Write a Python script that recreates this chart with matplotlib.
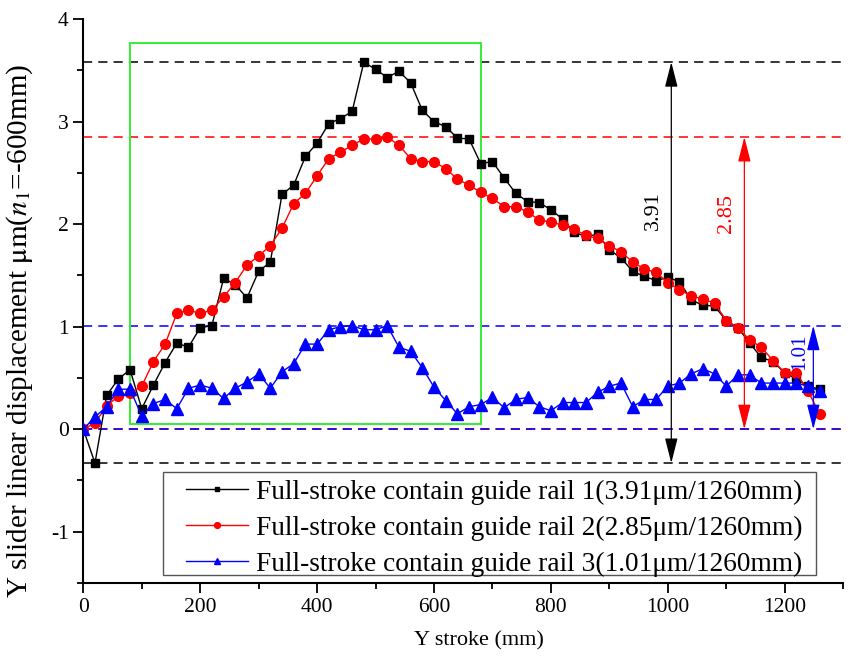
import matplotlib
matplotlib.use("Agg")
import matplotlib.pyplot as plt
from matplotlib.patches import Rectangle
import numpy as np

plt.rcParams.update({
    "font.family": ["Liberation Serif", "DejaVu Serif"],
    "mathtext.fontset": "stix",
    "axes.linewidth": 1.5,
    "axes.unicode_minus": False,
})

# ---------------------------------------------------------------------------
# Data, stroke every 20 mm from 0 to 1260
# ---------------------------------------------------------------------------
stroke = np.arange(0, 1261, 20)

rail1 = [0.00, -0.33, 0.33, 0.49, 0.58, 0.20, 0.43, 0.65, 0.84, 0.80,
         0.99, 1.01, 1.47, 1.41, 1.28, 1.54, 1.63, 2.29, 2.38, 2.66,
         2.79, 2.98, 3.03, 3.10, 3.58, 3.51, 3.43, 3.49, 3.38, 3.11,
         3.00, 2.95, 2.84, 2.83, 2.59, 2.61, 2.45, 2.30, 2.22, 2.21,
         2.14, 2.05, 1.92, 1.88, 1.90, 1.75, 1.67, 1.54, 1.49, 1.45,
         1.48, 1.44, 1.26, 1.21, 1.20, 1.06, 0.99, 0.84, 0.70, 0.66,
         0.55, 0.49, 0.42, 0.39]

rail2 = [0.00, 0.06, 0.23, 0.32, 0.35, 0.42, 0.66, 0.83, 1.13, 1.16,
         1.13, 1.16, 1.29, 1.43, 1.60, 1.69, 1.79, 1.96, 2.20, 2.30,
         2.47, 2.64, 2.70, 2.77, 2.83, 2.83, 2.85, 2.77, 2.64, 2.61,
         2.61, 2.54, 2.44, 2.38, 2.31, 2.25, 2.17, 2.17, 2.12, 2.04,
         2.02, 1.99, 1.95, 1.89, 1.86, 1.79, 1.73, 1.63, 1.56, 1.53,
         1.43, 1.36, 1.30, 1.27, 1.23, 1.06, 0.99, 0.87, 0.80, 0.67,
         0.55, 0.55, 0.37, 0.15]

rail3 = [0.00, 0.12, 0.22, 0.39, 0.39, 0.13, 0.25, 0.29, 0.20, 0.40,
         0.43, 0.40, 0.30, 0.40, 0.46, 0.54, 0.40, 0.56, 0.64, 0.83,
         0.83, 0.97, 1.00, 1.01, 0.97, 0.97, 1.01, 0.80, 0.76, 0.60,
         0.41, 0.28, 0.15, 0.22, 0.24, 0.31, 0.21, 0.29, 0.31, 0.22,
         0.18, 0.26, 0.26, 0.26, 0.36, 0.42, 0.45, 0.22, 0.29, 0.29,
         0.42, 0.45, 0.54, 0.59, 0.54, 0.42, 0.53, 0.53, 0.45, 0.45,
         0.45, 0.45, 0.42, 0.37]

labels = [
    "Full-stroke contain guide rail 1(3.91\u03bcm/1260mm)",
    "Full-stroke contain guide rail 2(2.85\u03bcm/1260mm)",
    "Full-stroke contain guide rail 3(1.01\u03bcm/1260mm)",
]
range_texts = ["3.91", "2.85", "1.01"]
arrow_x = [1006, 1131, 1249]
text_x = [975, 1100, 1226]
text_y = [2.13, 2.10, 0.75]
text_sizes = [16, 16, 15]

# highlighted zone (stroke 80..680 mm)
zone_x = (80, 680)
zone_y = (0.05, 3.77)

colors = ["#000000", "#ff0000", "#0000ff"]
markers = ["s", "o", "^"]
msizes = [6, 7, 8]

# ---------------------------------------------------------------------------
fig = plt.figure(figsize=(8.49, 6.57), dpi=100)
ax = fig.add_axes([0.0981, 0.1126, 0.895, 0.8584])

series = [rail1, rail2, rail3]
for vals, c, m, ms, lab in zip(series, colors, markers, msizes, labels):
    ax.plot(stroke, vals, color=c, marker=m, markersize=ms, linewidth=1.0,
            label=lab, zorder=3)

# dashed max / min lines and double arrows with the peak-to-valley value
for vals, c, ax_x, tx, ty, txt, ts in zip(series, colors, arrow_x, text_x,
                                          text_y, range_texts, text_sizes):
    hi, lo = max(vals), min(vals)
    ax.axhline(hi, color=c, linestyle=(0, (6, 4)), linewidth=1.1, zorder=2)
    ax.axhline(lo, color=c, linestyle=(0, (6, 4)), linewidth=1.1, zorder=2)
    ax.annotate("", xy=(ax_x, lo), xytext=(ax_x, hi),
                arrowprops=dict(arrowstyle="<|-|>,head_length=1.1,head_width=0.28",
                                color=c, lw=0.9, mutation_scale=14,
                                shrinkA=0, shrinkB=0),
                zorder=4)
    ax.text(tx, ty, txt, color=c, rotation=90, fontsize=ts,
            ha="center", va="center")

ax.add_patch(Rectangle((zone_x[0], zone_y[0]), zone_x[1] - zone_x[0],
                       zone_y[1] - zone_y[0], fill=False,
                       edgecolor="#33ee33", linewidth=1.4, zorder=2))

ax.set_xlim(0, 1300)
ax.set_ylim(-1.5, 4)
ax.set_xticks(np.arange(0, 1201, 200))
ax.set_xticks(np.arange(100, 1301, 200), minor=True)
ax.set_yticks(np.arange(-1, 4.1, 1))
ax.set_yticks(np.arange(-1.5, 4.1, 1), minor=True)
ax.tick_params(which="major", direction="out", length=7, width=1.3,
               labelsize=15.5)
ax.tick_params(which="minor", direction="out", length=4, width=1.3)
ax.spines["top"].set_visible(False)
ax.spines["right"].set_visible(False)

ax.set_xlabel("Y stroke (mm)", fontsize=16)
ax.xaxis.set_label_coords(0.521, -0.086)
ax.set_ylabel(r"Y slider linear displacement $\mathrm{\mu m}$($\mathit{n}_{1}$=-600mm)",
              fontsize=21)
ax.yaxis.set_label_coords(-0.064, 0.447)

# legend: text with a hand-placed frame
frame = Rectangle((0.1053, 0.0142), 0.8592, 0.1821, transform=ax.transAxes,
                  facecolor="white", edgecolor="#555555", linewidth=1.0,
                  zorder=5)
ax.add_patch(frame)
leg = ax.legend(loc="upper left", bbox_to_anchor=(0.1352, 0.1835),
                frameon=False, fontsize=19.7, borderpad=0, borderaxespad=0,
                handlelength=2.25, handletextpad=0.3, labelspacing=0.4,
                markerscale=0.6)
leg.set_zorder(6)

fig.savefig("out.png", dpi=100)
